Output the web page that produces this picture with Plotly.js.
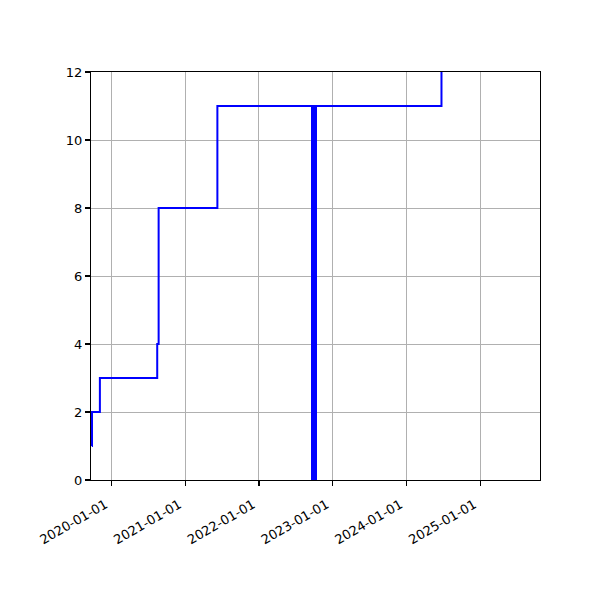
<!DOCTYPE html>
<html>
<head>
<meta charset="utf-8">
<script src="https://cdn.plot.ly/plotly-3.0.1.min.js"></script>
<style>html,body{margin:0;padding:0;background:#fff;}#chart{width:600px;height:600px;}</style>
</head>
<body>
<div id="chart"></div>
<script>
// Step series (cumulative count, step "post")
const stepDates = ['2019-09-26', '2019-09-27', '2019-11-05', '2020-08-15', '2020-08-22', '2021-06-09', '2024-06-23'];
const stepValues = [1, 2, 3, 4, 8, 11, 12];

// Vertical band (bar)
const barDates = ['2022-10-01'];
const barValues = [11];
const barWidthDays = [33];

const xTickVals = ['2020-01-01', '2021-01-01', '2022-01-01', '2023-01-01', '2024-01-01', '2025-01-01'];
const xTickText = ['2020-01-01', '2021-01-01', '2022-01-01', '2023-01-01', '2024-01-01', '2025-01-01'];
const yTickVals = [0, 2, 4, 6, 8, 10, 12];

const DAY = 86400000;

const traces = [
  {
    type: 'bar',
    x: barDates,
    y: barValues,
    width: barWidthDays.map(d => d * DAY),
    marker: {color: '#0000ff', line: {width: 0}},
    showlegend: false,
    hoverinfo: 'skip'
  },
  {
    type: 'scatter',
    mode: 'lines',
    x: stepDates,
    y: stepValues,
    line: {shape: 'hv', color: '#0000ff', width: 2},
    showlegend: false
  }
];

const axisCommon = {
  showline: true,
  linecolor: '#000',
  linewidth: 1.2,
  mirror: true,
  ticks: 'outside',
  ticklen: 5,
  tickwidth: 1.2,
  tickcolor: '#000',
  showgrid: true,
  gridcolor: '#b0b0b0',
  gridwidth: 1,
  zeroline: false,
  tickfont: {family: 'DejaVu Sans', size: 13, color: '#000'}
};

const layout = {
  width: 600,
  height: 600,
  margin: {l: 91, r: 60, t: 72, b: 120},
  paper_bgcolor: '#fff',
  plot_bgcolor: '#fff',
  showlegend: false,
  bargap: 0,
  xaxis: Object.assign({}, axisCommon, {
    type: 'date',
    range: ['2019-09-22', '2025-10-24'],
    tickmode: 'array',
    tickvals: xTickVals,
    ticktext: xTickText,
    tickangle: -30,
    ticklabelshift: -6,
    ticklabelstandoff: 6
  }),
  yaxis: Object.assign({}, axisCommon, {
    range: [0, 12],
    tickmode: 'array',
    tickvals: yTickVals,
    ticktext: yTickVals.map(String)
  })
};

Plotly.newPlot('chart', traces, layout, {staticPlot: true, displayModeBar: false});
</script>
</body>
</html>
